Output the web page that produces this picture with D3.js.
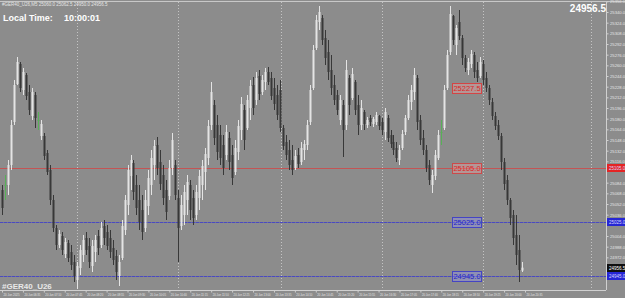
<!DOCTYPE html>
<html>
<head>
<meta charset="utf-8">
<script src="https://cdn.jsdelivr.net/npm/d3@7/dist/d3.min.js"></script>
<style>
  body { margin: 0; background: #8c8c8c; overflow: hidden; }
  svg { display: block; font-family: "Liberation Sans", Arial, sans-serif; }
</style>
</head>
<body>
<script>
// GER40 candles (one candle per entry)

var header = "#GER40_U26,M5  25060.0 25062.5 24950.0 24956.5";
var symbol = "#GER40_U26";
var localTime = "10:00:01";
var lastPrice = 24956.5;

var opens = [25073,25080.5,25080.5,25110.5,25175,25232,25262,25223,25245.5,25220,
  25184,25215.5,25178,25154,25154,25128.5,25103,25058,25016,24990.5,
  25004,24977,24993.5,24980,24965,24938,24956,24975.5,25001,24989,
  24959,24980,25004,24990.5,25019,25010,25001,24986,24974,24944,
  24971,25013,25050.5,25094,25113.5,25080.5,25058,25043,25016,25049,
  25080.5,25110.5,25140.5,25115,25095.5,25073,25064,25106,25110.5,25061,
  25019,25035.5,25058,25080.5,25061,25035.5,25061,25080.5,25100,25121,
  25170.5,25200.5,25170.5,25155.5,25140.5,25125.5,25151,25125.5,25100,25130,
  25163,25193,25166,25196,25230.5,25208,25244,25220,25235,25250,
  25241,25226,25215.5,25223,25166,25145,25133,25118,25106,25125.5,
  25115,25133,25140.5,25175,25226,25286,25325,25331,25301,25280,
  25253,25230.5,25215.5,25178,25200.5,25170.5,25241,25211,25235,25200.5,
  25170.5,25190,25170.5,25181,25172,25175,25184,25175,25160,25181,
  25155.5,25145,25136,25118,25136,25160,25181,25205,25220,25241,
  25178,25151,25133,25110.5,25080.5,25094,25121,25160,25166,25226,
  25280,25334,25290.5,25325,25301,25271,25253,25262,25275.5,25253,
  25244,25262,25241,25226,25205,25184,25170.5,25154,25115,25088,
  25058,25035.5,25005.5,24983,24952];

var highs = [25080.5,25095.5,25118,25178,25238,25272.5,25265,25256,25248.5,25230.5,
  25226,25220,25190,25178,25158.5,25133,25110.5,25065.5,25020.5,25013,
  25010,25001,24998,24990.5,24975.5,24965,24990.5,25005.5,25010,25001,
  24998,25005.5,25013,25025,25028,25020.5,25013,24998,24983,24975.5,
  25028,25065.5,25110.5,25125.5,25118,25095.5,25080.5,25065.5,25073,25103,
  25133,25148,25152.5,25133,25110.5,25088,25118,25158.5,25118,25073,
  25065.5,25080.5,25095.5,25088,25073,25080.5,25103,25118,25136,25178,
  25235,25208,25185.5,25170.5,25155.5,25170.5,25160,25140.5,25148,25178,
  25212.5,25200.5,25215.5,25238,25242.5,25250,25253,25245.5,25256,25257.5,
  25250,25241,25230.5,25238,25170.5,25155.5,25148,25140.5,25133,25136,
  25145,25148,25178,25230.5,25290.5,25335.5,25349,25335.5,25313,25298,
  25275.5,25245.5,25223,25215.5,25208,25268,25245.5,25256,25238,25215.5,
  25208,25193,25182.5,25185.5,25182.5,25190,25185.5,25181,25196,25185.5,
  25163,25155.5,25145,25140.5,25163,25185.5,25215.5,25230.5,25256,25245.5,
  25185.5,25163,25140.5,25118,25103,25133,25163,25178,25230.5,25283,
  25349,25335.5,25320.5,25343,25305.5,25275.5,25271,25283,25280,25265,
  25272.5,25268,25250,25230.5,25211,25190,25178,25158.5,25121,25095.5,
  25061,25043,25035.5,25005.5,24965];

var lows = [25035.5,25058,25065.5,25103,25170.5,25230.5,25220,25215.5,25208,25185.5,
  25178,25166,25163,25148,25118,25095.5,25050.5,25010,24983,24986,
  24975.5,24971,24965,24953,24935,24924.5,24945.5,24965,24975.5,24956,
  24950,24965,24975.5,24986,24990.5,24983,24971,24960.5,24938,24929,
  24968,25005.5,25035.5,25073,25058,25035.5,25013,24998,25010,25035.5,
  25065.5,25088,25095.5,25073,25050.5,25028,25058,25095.5,25058,24965,
  25013,25020.5,25035.5,25028,25020.5,25028,25043,25058,25073,25110.5,
  25163,25140.5,25118,25110.5,25095.5,25118,25103,25080.5,25095.5,25118,
  25148,25133,25163,25178,25185.5,25200.5,25208,25215.5,25223,25230.5,
  25208,25193,25178,25160,25133,25118,25103,25095.5,25103,25106,
  25110.5,25118,25133,25170.5,25223,25283,25313,25290.5,25260.5,25238,
  25215.5,25200.5,25185.5,25170.5,25122.5,25163,25185.5,25208,25185.5,25155.5,
  25163,25163,25166,25169,25167.5,25170.5,25163,25155.5,25148,25145,
  25136,25125.5,25115,25110.5,25133,25155.5,25178,25193,25208,25163,
  25140.5,25125.5,25100,25080.5,25068.5,25088,25118,25140.5,25163,25223,
  25275.5,25290.5,25275.5,25298,25260.5,25250,25245.5,25256,25241,25235,
  25241,25230.5,25220,25200.5,25178,25163,25148,25103,25073,25050.5,
  25020.5,24990.5,24960.5,24935,24950];

var closes = [25046,25080.5,25110.5,25170.5,25230.5,25265,25226,25250,25214,25193,
  25220,25181,25178,25172,25124,25100,25058,25016,24990.5,25007,
  24983,24995,24971,24960.5,24944,24959,24983,24998,24983,24965,
  24989,24998,24986,25016,25001,24989,24980,24968,24950,24965,
  25019,25058,25103,25118,25070,25046,25025,25010,25058,25091,
  25121,25139,25106,25082,25061,25040,25106,25148,25065.5,25016,
  25050.5,25070,25085,25043,25031,25070,25094,25109,25127,25169,
  25220,25151,25130,25121,25106,25160,25115,25091,25136,25169,
  25202,25148,25208,25229,25196,25241,25217,25238,25250,25235,
  25214,25202,25185.5,25166,25139,25125.5,25110.5,25103,25124,25112,
  25136,25142,25170.5,25223,25283,25328,25340,25298,25271,25250,
  25226,25208,25193,25208,25163,25253,25200.5,25247,25193,25170.5,
  25196,25172,25178,25175,25179.5,25185.5,25169,25163,25190,25151,
  25142,25133,25121,25133,25157,25181,25208,25223,25245.5,25175,
  25148,25133,25106,25088,25095.5,25125.5,25155.5,25160,25223,25275.5,
  25337,25298,25316,25304,25271,25256,25265,25277,25250,25241,
  25265,25238,25226,25208,25184,25169,25154,25115,25082,25058,
  25031,25001,24975.5,24953,24956.5];

// right price scale labels
var priceTicks = [25356,25340,25324,25308,25292,25276,25260,25244,25228,25212,
  25196,25180,25164,25148,25132,25116,25100,25084,25068,25052,
  25036,25020,25004,24988,24972,24956,24940];

// bottom time scale: candle index of each label and its text
var timeIdx = [0,7,14,21,28,35,42,49,56,63,70,77,84,91,98,105,112,119,126,133,140,147,154,161,168,175];
var timeLabels = ["20 Jun 2025","20 Jun 06:35","20 Jun 07:10","20 Jun 07:45","20 Jun 08:20",
  "20 Jun 08:55","20 Jun 09:30","20 Jun 10:05","20 Jun 10:40","20 Jun 11:15",
  "20 Jun 11:50","20 Jun 12:25","20 Jun 13:00","20 Jun 13:35","20 Jun 14:10",
  "20 Jun 14:45","20 Jun 15:20","20 Jun 15:55","20 Jun 16:30","20 Jun 17:05",
  "20 Jun 17:40","20 Jun 18:15","20 Jun 18:50","20 Jun 19:25","20 Jun 20:00","20 Jun 20:35"];

// vertical grid (candle index)
var gridIdx = [25, 59, 93.5, 127, 161, 197];

// horizontal levels drawn on the chart
var levelPrices = [25227.5, 25105.0, 25025.0, 24945.0];
var levelText = ["25227.5", "25105.0", "25025.0", "24945.0"];

// ---- drawing ----
var W = 625, H = 298;
var plotR = 606, plotT = 2, plotB = 290;

var svg = d3.select("body").append("svg")
  .attr("width", W)
  .attr("height", H);

svg.append("rect").attr("width", W).attr("height", H).attr("fill", "#8c8c8c");

var x = d3.scaleLinear().domain([0, opens.length - 1]).range([2, 522]);
var y = d3.scaleLinear().domain([24926, 25358]).range([288, 0]);

// pixel row for a level (even rows keep their colour best)
var rowOf = function(p){ return 2 * Math.round(y(p) / 2); };

svg.append("clipPath").attr("id", "plot")
  .append("rect").attr("x", 0).attr("y", plotT).attr("width", plotR).attr("height", plotB - plotT);

var plot = svg.append("g").attr("clip-path", "url(#plot)");

// grid
plot.selectAll("line.grid").data(gridIdx).enter().append("line")
  .attr("class", "grid")
  .attr("x1", function(d){ return Math.round(x(d)) + 0.5; })
  .attr("x2", function(d){ return Math.round(x(d)) + 0.5; })
  .attr("y1", plotT).attr("y2", plotB)
  .attr("stroke", "#c4c4c4")
  .attr("stroke-dasharray", "1,2");

// level look, same order as levelPrices
var levelLook = [
  {line: false, stroke: "#d44444", fill: "rgba(255,170,170,0.35)", text: "#dc2626", tag: null},
  {line: true, stroke: "#cc4a4a", fill: "rgba(255,170,170,0.35)", text: "#dc2626", tag: "#e42424", dash: 0},
  {line: true, stroke: "#4444c4", fill: "rgba(150,150,255,0.35)", text: "#2424c4", tag: "#2626d4", dash: 3},
  {line: true, stroke: "#4444c4", fill: "rgba(150,150,255,0.35)", text: "#2424c4", tag: "#2626d4", dash: 3}
];

// level lines as 1px strips (dashes made of short strips)
levelPrices.forEach(function(p, i){
  var look = levelLook[i];
  if (!look.line) return;
  var ly = rowOf(p);
  if (!look.dash) {
    plot.append("rect").attr("class", "level")
      .attr("x", 0).attr("y", ly).attr("width", plotR).attr("height", 1)
      .attr("fill", look.stroke).attr("fill-opacity", 0.85);
  } else {
    plot.append("rect").attr("class", "level")
      .attr("x", 0).attr("y", ly).attr("width", plotR).attr("height", 1)
      .attr("fill", look.stroke).attr("fill-opacity", 0.45);
    plot.selectAll("rect.dash" + i).data(d3.range(0, plotR, look.dash + 1)).enter().append("rect")
      .attr("class", "dash" + i)
      .attr("x", function(d){ return d; }).attr("y", ly)
      .attr("width", look.dash).attr("height", 1)
      .attr("fill", look.stroke).attr("fill-opacity", 0.85);
  }
});

// candles
var idx = d3.range(opens.length);
var bull = function(i){ return closes[i] > opens[i]; };
var doji = function(i){ return closes[i] === opens[i]; };
var col = function(i){ return doji(i) ? "#58b058" : (bull(i) ? "#e4e4e4" : "#383838"); };

plot.selectAll("line.wick").data(idx).enter().append("line")
  .attr("class", "wick")
  .attr("x1", function(i){ return Math.round(x(i)) + 0.5; })
  .attr("x2", function(i){ return Math.round(x(i)) + 0.5; })
  .attr("y1", function(i){ return y(highs[i]); })
  .attr("y2", function(i){ return y(lows[i]); })
  .attr("stroke", col)
  .attr("stroke-width", 1);

plot.selectAll("rect.body").data(idx).enter().append("rect")
  .attr("class", "body")
  .attr("x", function(i){ return Math.round(x(i)) - 0.5; })
  .attr("width", 2)
  .attr("y", function(i){ return y(Math.max(opens[i], closes[i])); })
  .attr("height", function(i){ return Math.max(1, Math.abs(y(opens[i]) - y(closes[i]))); })
  .attr("fill", col);

// level boxes on the chart
var tagAt = 150.5;
levelPrices.forEach(function(p, i){
  var look = levelLook[i];
  var ly = rowOf(p) + 0.5;
  var bx = Math.round(x(tagAt)) + 0.5;
  plot.append("rect")
    .attr("x", bx).attr("y", ly - 5)
    .attr("width", 29).attr("height", 10)
    .attr("fill", look.fill)
    .attr("stroke", look.stroke);
  plot.append("text")
    .attr("x", bx + 14.5).attr("y", ly + 2.6)
    .attr("text-anchor", "middle")
    .attr("font-size", "7.5px")
    .attr("fill", look.text)
    .text(levelText[i]);
});

// frame line on top
svg.append("line").attr("x1", 0).attr("x2", W).attr("y1", 1.5).attr("y2", 1.5)
  .attr("stroke", "#c8c8c8");

// price tags on the right scale
var tags = [];
levelPrices.forEach(function(p, i){ if (levelLook[i].tag) tags.push({p: p, c: levelLook[i].tag, t: "#d8d8ff"}); });
tags.push({p: lastPrice, c: "#101010", t: "#ffffff"});

// right price axis, labels hidden where a tag sits
var shownTicks = priceTicks.filter(function(v){
  return !tags.some(function(t){ return Math.abs(y(t.p) - y(v)) < 6; });
});
var yAxis = d3.axisRight(y)
  .tickValues(shownTicks)
  .tickFormat(d3.format(".1f"))
  .tickSize(2)
  .tickPadding(1.5);

var ya = svg.append("g")
  .attr("transform", "translate(" + (plotR + 0.5) + ",0)")
  .call(yAxis);
ya.select(".domain").attr("stroke", "#d0d0d0").attr("d", "M0," + plotT + "V" + plotB);
ya.selectAll(".tick line").attr("stroke", "#d0d0d0");
ya.selectAll(".tick text").attr("fill", "#e4e4e4").attr("font-size", "4.2px")
  .attr("font-family", "Liberation Sans, Arial, sans-serif");

var tg = svg.selectAll("g.ptag").data(tags).enter().append("g")
  .attr("class", "ptag")
  .attr("transform", function(d){ return "translate(" + (plotR + 1) + "," + rowOf(d.p) + ")"; });
tg.append("rect").attr("x", 0).attr("y", -4).attr("width", 18).attr("height", 8)
  .attr("fill", function(d){ return d.c; });
tg.append("text").attr("x", 2).attr("y", 1.6)
  .attr("font-size", "4.5px")
  .attr("fill", function(d){ return d.t; })
  .text(function(d){ return d3.format(".1f")(d.p); });

// bottom time axis
var xAxis = d3.axisBottom(x)
  .tickValues(timeIdx)
  .tickFormat(function(d, i){ return timeLabels[i]; })
  .tickSize(2)
  .tickPadding(1);

var xa = svg.append("g")
  .attr("transform", "translate(0," + (plotB + 0.5) + ")")
  .call(xAxis);
xa.select(".domain").attr("stroke", "#d0d0d0").attr("d", "M0,0H" + plotR);
xa.selectAll(".tick line").attr("stroke", "#d0d0d0");
xa.selectAll(".tick text").attr("fill", "#e4e4e4").attr("font-size", "3.8px")
  .attr("text-anchor", "start").attr("dx", "1px")
  .attr("textLength", 16).attr("lengthAdjust", "spacingAndGlyphs")
  .attr("font-family", "Liberation Sans, Arial, sans-serif");

// texts
svg.append("text").attr("x", 2).attr("y", 6)
  .attr("font-size", "4.5px").attr("fill", "#e6e6e6")
  .text(header);

svg.append("text").attr("x", 3).attr("y", 20.5)
  .attr("font-size", "9px").attr("font-weight", "bold").attr("fill", "#ffffff")
  .text("Local Time:");
svg.append("text").attr("x", 64).attr("y", 20.5)
  .attr("font-size", "9px").attr("font-weight", "bold").attr("fill", "#ffffff")
  .text(localTime);

svg.append("text").attr("x", plotR).attr("y", 11.5)
  .attr("text-anchor", "end")
  .attr("font-size", "10px").attr("font-weight", "bold").attr("fill", "#ffffff")
  .text(d3.format(".1f")(lastPrice));

svg.append("text").attr("x", 2).attr("y", 288.5)
  .attr("font-size", "8px").attr("font-weight", "bold").attr("fill", "#e8e8e8")
  .text(symbol);
</script>
</body>
</html>
